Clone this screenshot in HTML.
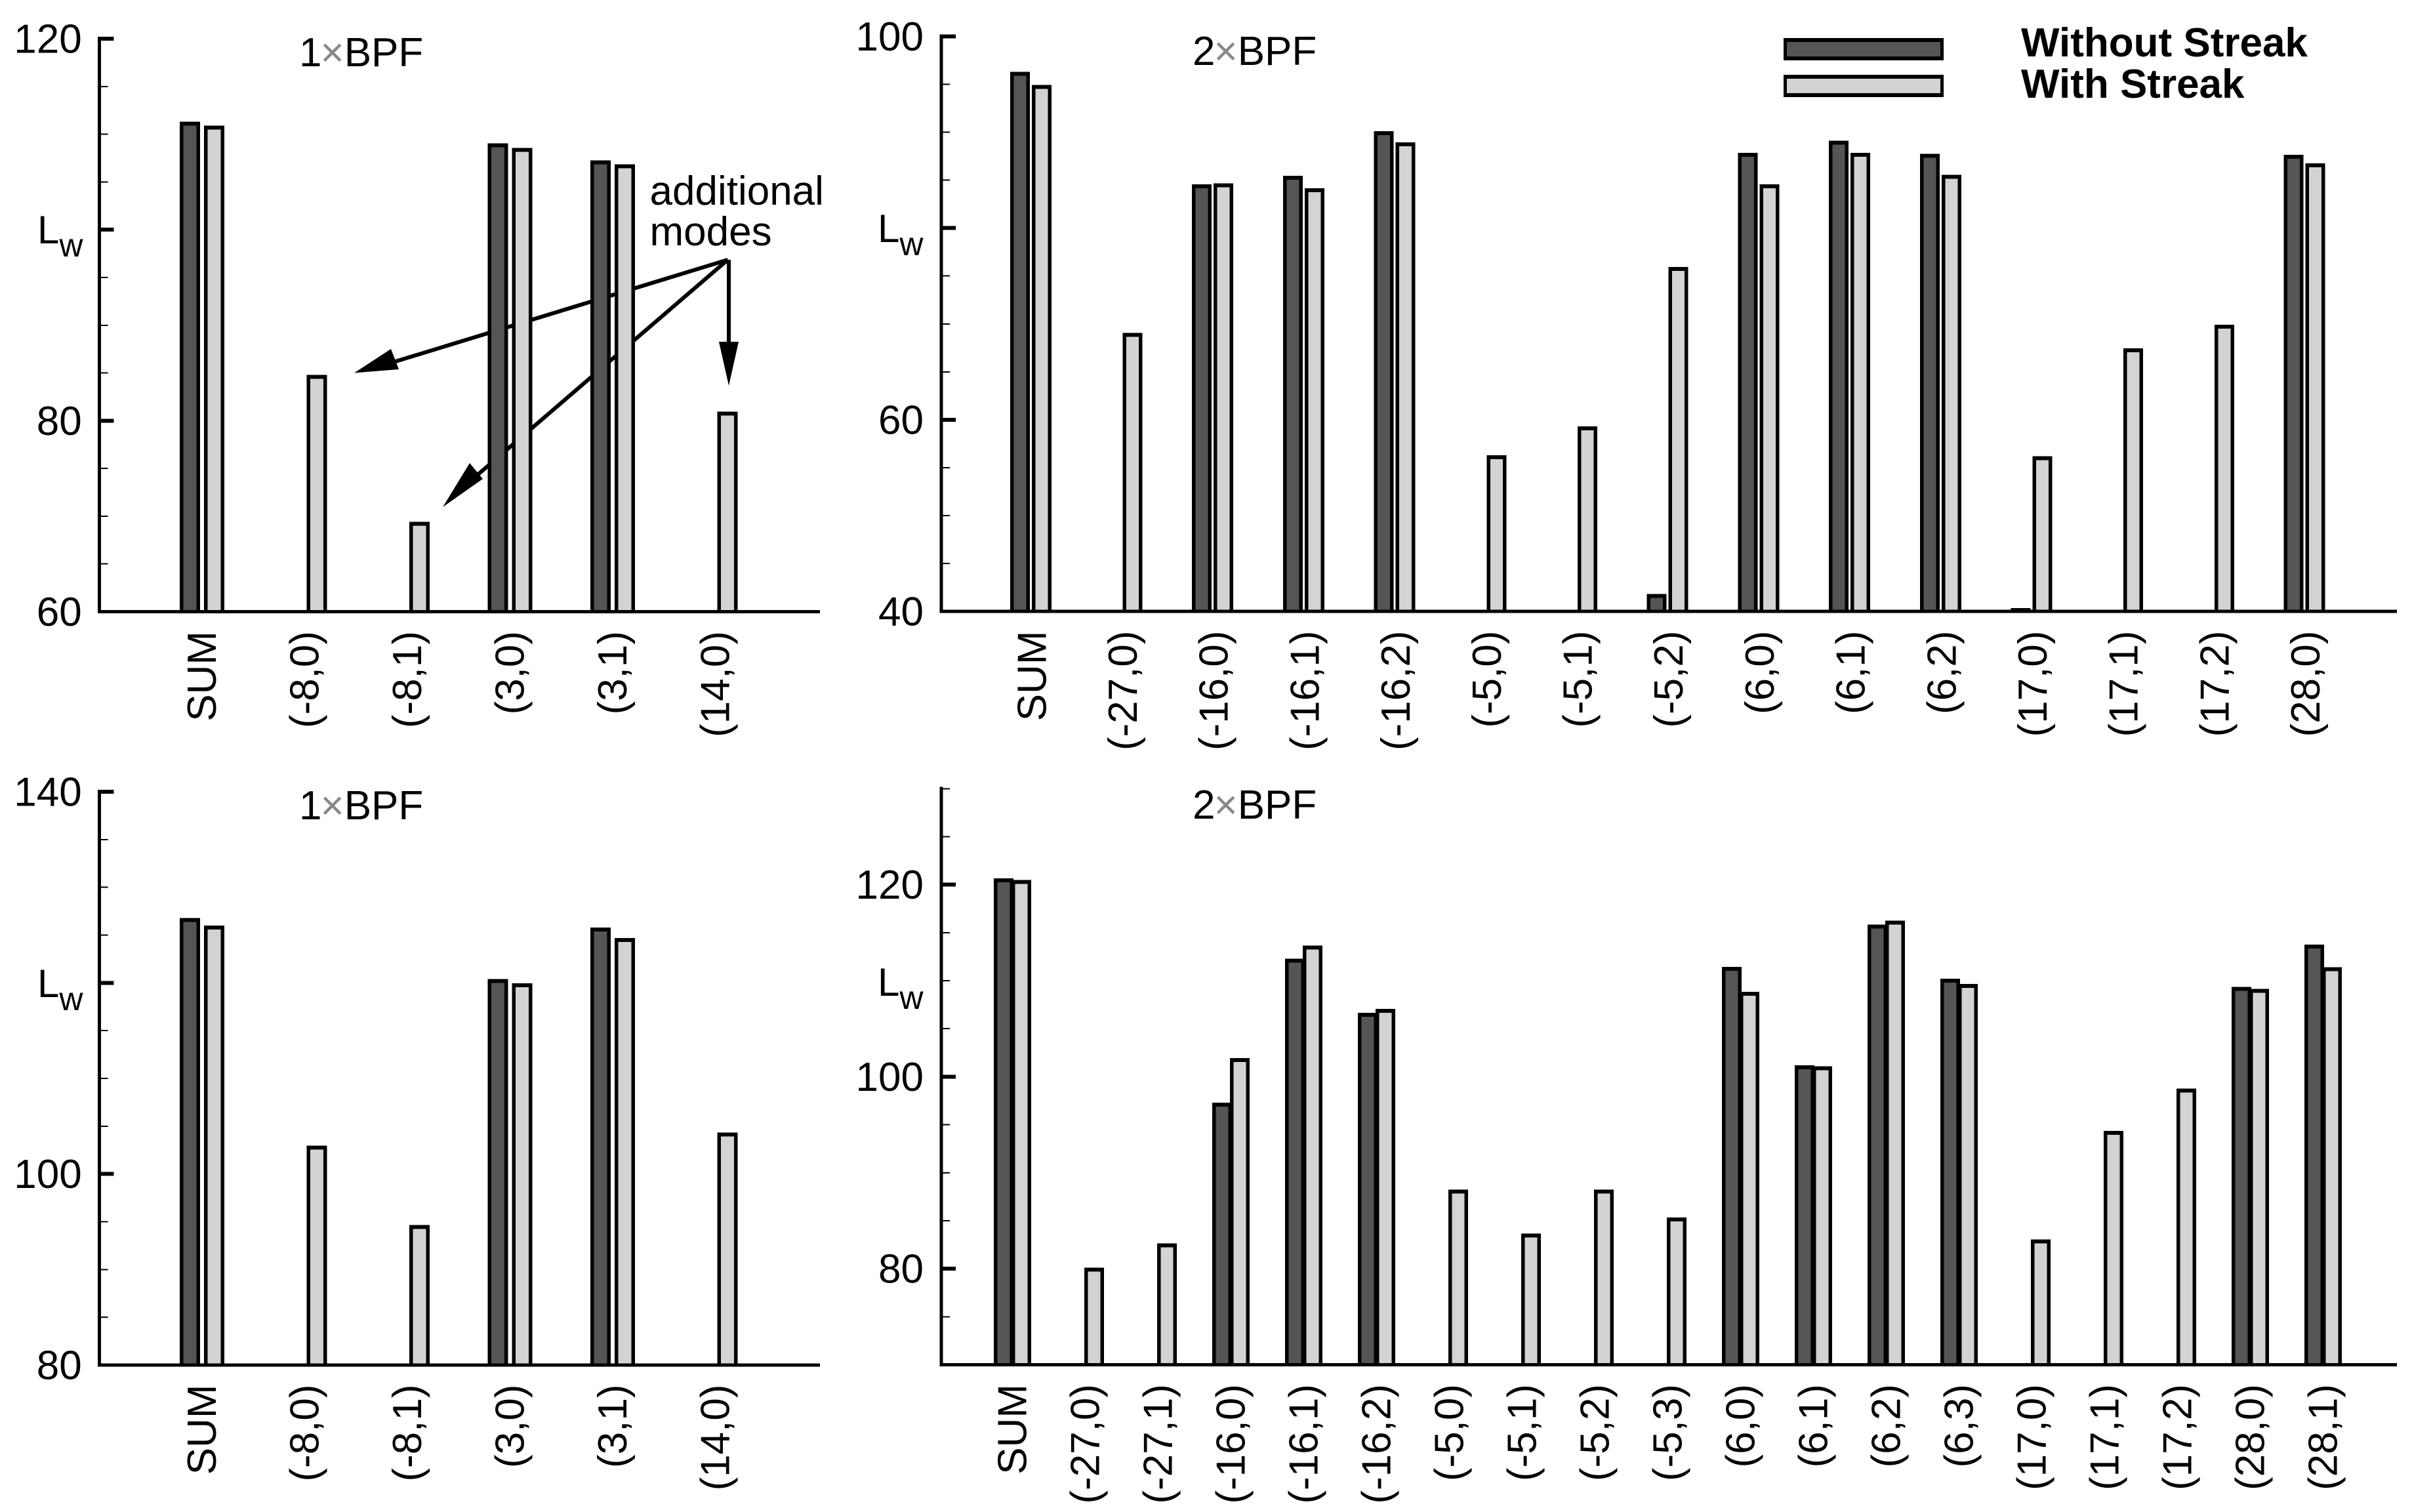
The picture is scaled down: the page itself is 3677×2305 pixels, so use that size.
<!DOCTYPE html>
<html lang="en">
<head>
<meta charset="utf-8">
<title>Sound power level by mode</title>
<style>
html,body{margin:0;padding:0;background:#fff;}
svg{display:block;}
text{font-family:"Liberation Sans",sans-serif;fill:#000;}
</style>
</head>
<body>
<svg id="figure" xmlns="http://www.w3.org/2000/svg" width="3677" height="2305" viewBox="0 0 3677 2305">
  <rect x="0" y="0" width="3677" height="2305" fill="#fff"/>

  <g>
    <g>
      <line x1="1109.5" y1="396" x2="590" y2="555" stroke="#000" stroke-width="6"/>
      <polygon points="540,568.5 596,532 608,563" fill="#000"/>
    </g>
    <g>
      <line x1="1109.5" y1="396" x2="715" y2="735" stroke="#000" stroke-width="6"/>
      <polygon points="675,773 716,706 736,730" fill="#000"/>
    </g>
    <g>
      <line x1="1111" y1="396" x2="1111" y2="530" stroke="#000" stroke-width="6"/>
      <polygon points="1111,588 1096,521 1126,521" fill="#000"/>
    </g>
    <text x="990.5" y="312" font-size="62">additional</text>
    <text x="990.5" y="374" font-size="62">modes</text>
  </g>

  <g id="panel-1"></g>
  <g id="panel-2"></g>
  <g id="panel-3"></g>
  <g id="panel-4"></g>

  <text x="456" y="101" font-size="62">1<tspan fill="#888" dx="-2">×</tspan>BPF</text>
  <text x="1818" y="99" font-size="62">2<tspan fill="#888" dx="-2">×</tspan>BPF</text>
  <text x="456" y="1249" font-size="62">1<tspan fill="#888" dx="-2">×</tspan>BPF</text>
  <text x="1818" y="1248" font-size="62">2<tspan fill="#888" dx="-2">×</tspan>BPF</text>

  <text x="57" y="371" font-size="60">L<tspan font-size="50" dy="20">w</tspan></text>
  <text x="1338" y="369" font-size="60">L<tspan font-size="50" dy="20">w</tspan></text>
  <text x="57" y="1520" font-size="60">L<tspan font-size="50" dy="20">w</tspan></text>
  <text x="1338" y="1518" font-size="60">L<tspan font-size="50" dy="20">w</tspan></text>

  <g>
    <g>
      <rect x="2719" y="58" width="244" height="34" fill="#000"/>
      <rect x="2724" y="64" width="234" height="22" fill="#555555"/>
      <text x="3081" y="86" font-size="62" font-weight="700">Without Streak</text>
    </g>
    <g>
      <rect x="2719" y="114" width="244" height="34" fill="#000"/>
      <rect x="2724" y="120" width="234" height="22" fill="#d3d3d3"/>
      <text x="3081" y="149" font-size="62" font-weight="700">With Streak</text>
    </g>
  </g>
</svg>

<script>
// ---- Panel 1 (top left, 1xBPF) ----
const p1Categories = ["SUM","(-8,0)","(-8,1)","(3,0)","(3,1)","(14,0)"];
const p1Without = [111.3,null,null,109.05,107.25,null];
const p1With = [110.9,84.8,69.4,108.55,106.85,80.95];
const p1Majors = [60,80,100,120];
const p1TickLabels = ["60","80","","120"];

// ---- Panel 2 (top right, 2xBPF) ----
const p2Categories = ["SUM","(-27,0)","(-16,0)","(-16,1)","(-16,2)","(-5,0)","(-5,1)","(-5,2)","(6,0)","(6,1)","(6,2)","(17,0)","(17,1)","(17,2)","(28,0)"];
const p2Without = [96.3,null,84.55,85.45,90.1,null,null,41.8,87.85,89.1,87.75,40.35,null,null,87.65];
const p2With = [94.95,69.05,84.65,84.15,88.95,56.3,59.3,75.95,84.55,87.85,85.55,56.2,67.45,69.9,86.75];
const p2Majors = [40,60,80,100];
const p2TickLabels = ["40","60","","100"];

// ---- Panel 3 (bottom left, 1xBPF) ----
const p3Categories = ["SUM","(-8,0)","(-8,1)","(3,0)","(3,1)","(14,0)"];
const p3Without = [126.8,null,null,120.4,125.8,null];
const p3With = [126,102.95,94.65,119.95,124.7,104.35];
const p3Majors = [80,100,120,140];
const p3TickLabels = ["80","100","","140"];

// ---- Panel 4 (bottom right, 2xBPF) ----
const p4Categories = ["SUM","(-27,0)","(-27,1)","(-16,0)","(-16,1)","(-16,2)","(-5,0)","(-5,1)","(-5,2)","(-5,3)","(6,0)","(6,1)","(6,2)","(6,3)","(17,0)","(17,1)","(17,2)","(28,0)","(28,1)"];
const p4Without = [120.65,null,null,97.3,112.3,106.65,null,null,null,null,111.45,101.2,115.85,110.2,null,null,null,109.35,113.75];
const p4With = [120.5,80.1,82.65,101.95,113.65,107.05,88.25,83.65,88.25,85.35,108.85,101.1,116.25,109.65,83.05,94.35,98.75,109.15,111.4];
const p4Majors = [80,100,120];
const p4TickLabels = ["80","100","120"];

const SVG_NS = "http://www.w3.org/2000/svg";
const DARK = "#555555";
const LIGHT = "#d3d3d3";

function make(tag, attrs, parent) {
  const el = document.createElementNS(SVG_NS, tag);
  for (const k in attrs) el.setAttribute(k, attrs[k]);
  parent.appendChild(el);
  return el;
}

function drawBar(parent, left, width, top, bottom, fill, name) {
  const g = make("g", {}, parent);
  
  
  make("rect", {x:left, y:top, width:width, height:bottom-top, fill:"#000", "shape-rendering":"crispEdges"}, g);
  make("rect", {x:left+5.5, y:top+6, width:width-11, height:Math.max(0,bottom-top-6), fill:fill, "shape-rendering":"crispEdges"}, g);
}

function drawPanel(cfg) {
  const root = document.getElementById(cfg.id);
  const yScale = v => cfg.yBottom - (v - cfg.min) * (cfg.yBottom - cfg.yTop) / (cfg.max - cfg.min);
  const xScale = i => cfg.firstCenter + i * cfg.step;

  // bars
  cfg.categories.forEach((cat, i) => {
    const c = xScale(i);
    if (cfg.without[i] !== null) {
      drawBar(root, c - cfg.offset - cfg.barWidth, cfg.barWidth, yScale(cfg.without[i]), cfg.yBottom, DARK, 'bar-without-streak-' + cat);
    }
    if (cfg.withS[i] !== null) {
      drawBar(root, c + cfg.offset, cfg.barWidth, yScale(cfg.withS[i]), cfg.yBottom, LIGHT, 'bar-with-streak-' + cat);
    }
    const label = make("text", {
      transform: "translate(" + (c + cfg.labelDx) + "," + (cfg.yBottom + 29.5) + ") rotate(-90)",
      "text-anchor": "end",
      "font-size": 62
    }, root);
    label.textContent = cat;
    
    
  });

  // y axis line
  const yAxis = make("rect", {x:cfg.axisX-2.5, y:cfg.yTop-3, width:5, height:cfg.yBottom-cfg.yTop+5, fill:"#000", "shape-rendering":"crispEdges"}, root);
  
  

  // x axis line
  const xAxis = make("rect", {x:cfg.axisX-2.5, y:cfg.yBottom-2.5, width:cfg.axisEnd-cfg.axisX+2.5, height:5, fill:"#000", "shape-rendering":"crispEdges"}, root);
  
  

  // minor ticks
  for (let v = cfg.min; v <= cfg.max; v += 5) {
    if (cfg.majors.indexOf(v) !== -1) continue;
    const t = make("rect", {x:cfg.axisX, y:yScale(v)-1, width:cfg.minorLen, height:2, fill:"#000", "shape-rendering":"crispEdges"}, root);
    
    
  }

  // major ticks and labels
  cfg.majors.forEach((v, i) => {
    const y = yScale(v);
    if (v !== cfg.min) {
      const t = make("rect", {x:cfg.axisX, y:y-3, width:cfg.majorLen, height:6, fill:"#000", "shape-rendering":"crispEdges"}, root);
      
      
    }
    if (cfg.tickLabels[i]) {
      const lab = make("text", {x:cfg.axisX - 27, y:y + 21.5, "text-anchor":"end", "font-size":62}, root);
      lab.textContent = cfg.tickLabels[i];
      
      
    }
  });
}

drawPanel({id:"panel-1", categories:p1Categories, without:p1Without, withS:p1With, majors:p1Majors, tickLabels:p1TickLabels,
  min:60, max:120, yTop:59, yBottom:932.5, axisX:151.7, axisEnd:1250, firstCenter:308, step:156.5, barWidth:31, offset:3, labelDx:21.2, majorLen:22, minorLen:13});
drawPanel({id:"panel-2", categories:p2Categories, without:p2Without, withS:p2With, majors:p2Majors, tickLabels:p2TickLabels,
  min:40, max:100, yTop:55.5, yBottom:932, axisX:1435, axisEnd:3654, firstCenter:1571.3, step:138.7, barWidth:30, offset:1.5, labelDx:23, majorLen:22, minorLen:13});
drawPanel({id:"panel-3", categories:p3Categories, without:p3Without, withS:p3With, majors:p3Majors, tickLabels:p3TickLabels,
  min:80, max:140, yTop:1207, yBottom:2081, axisX:151.7, axisEnd:1250, firstCenter:308, step:156.5, barWidth:31, offset:3, labelDx:21.2, majorLen:22, minorLen:13});
drawPanel({id:"panel-4", categories:p4Categories, without:p4Without, withS:p4With, majors:p4Majors, tickLabels:p4TickLabels,
  min:70, max:130, yTop:1202.3, yBottom:2080.5, axisX:1435, axisEnd:3654, firstCenter:1543.5, step:111, barWidth:30, offset:-1.5, labelDx:21, majorLen:22, minorLen:13});
</script>
</body>
</html>
